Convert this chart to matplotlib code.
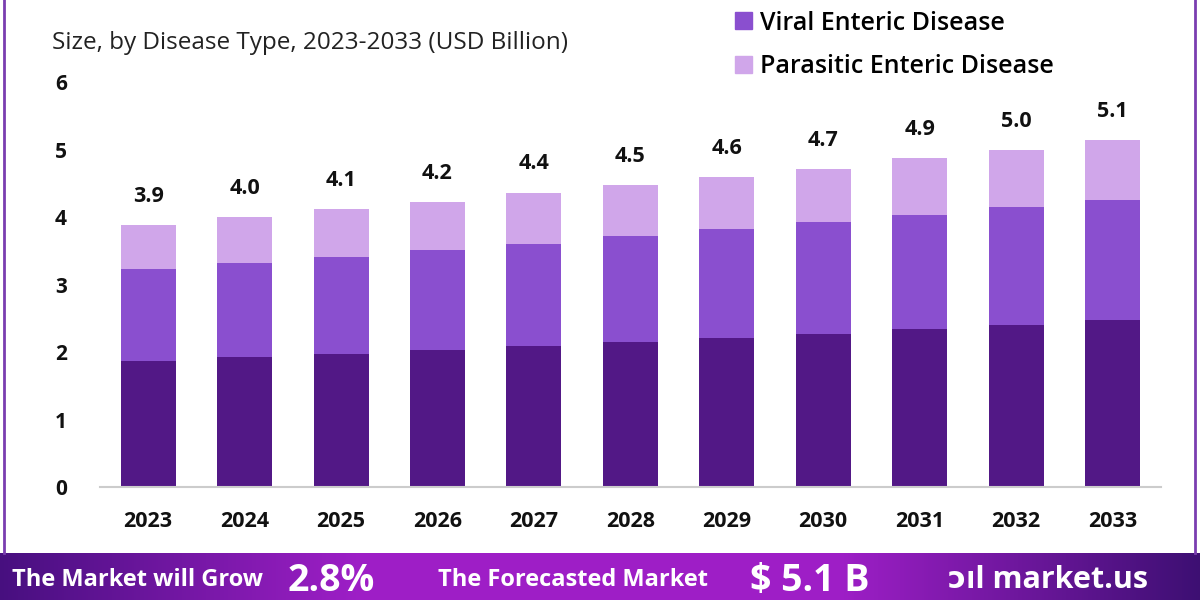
import numpy as np
import matplotlib.pyplot as plt
from matplotlib.patches import Patch
from matplotlib.lines import Line2D

plt.rcParams['font.family'] = ['Open Sans', 'DejaVu Sans']

# --- Data (USD Billion) ---
years = ['2023', '2024', '2025', '2026', '2027', '2028',
         '2029', '2030', '2031', '2032', '2033']
bacterial = [1.87, 1.93, 1.97, 2.03, 2.09, 2.15, 2.21, 2.27, 2.34, 2.40, 2.47]
viral = [1.36, 1.39, 1.44, 1.48, 1.52, 1.57, 1.61, 1.66, 1.70, 1.75, 1.78]
parasitic = [0.65, 0.68, 0.71, 0.71, 0.75, 0.75, 0.77, 0.78, 0.83, 0.84, 0.89]
totals = ['3.9', '4.0', '4.1', '4.2', '4.4', '4.5', '4.6', '4.7', '4.9', '5.0', '5.1']

c_bact = '#521886'
c_viral = '#8a4fcf'
c_para = '#d0a6ea'

fig = plt.figure(figsize=(12, 6), dpi=100)
ax = fig.add_axes([0.0833, 0.188, 0.884, 0.675])

x = np.arange(len(years))
w = 0.57
ax.bar(x, bacterial, w, color=c_bact, zorder=2)
ax.bar(x, viral, w, bottom=bacterial, color=c_viral, zorder=2)
tops = np.array(bacterial) + np.array(viral)
ax.bar(x, parasitic, w, bottom=tops, color=c_para, zorder=2)
stack = tops + np.array(parasitic)

for xi, h, lab in zip(x, stack, totals):
    ax.text(xi, h + 0.43, lab, ha='center', va='center',
            fontsize=15.5, fontweight='bold', color='#111111')

ax.set_xlim(-0.5, 10.5)
ax.set_ylim(0, 6)
ax.set_xticks(x)
ax.set_xticklabels(years, fontsize=15.5, fontweight='bold', color='#111111')
ax.set_yticks(range(7))
ax.set_yticklabels([str(i) for i in range(7)], fontsize=15,
                   fontweight='bold', color='#111111')
ax.tick_params(axis='x', length=0, pad=17)
ax.tick_params(axis='y', length=0, pad=24)
for s in ['top', 'right', 'left']:
    ax.spines[s].set_visible(False)
ax.spines['bottom'].set_color('#cccccc')
ax.spines['bottom'].set_linewidth(1.5)

fig.text(0.043, 0.928, 'Size, by Disease Type, 2023-2033 (USD Billion)',
         fontsize=17.5, color='#222222', va='center')

handles = [Patch(color=c_viral), Patch(color=c_para)]
fig.legend(handles, ['Viral Enteric Disease', 'Parasitic Enteric Disease'],
           loc='upper left', bbox_to_anchor=(0.594, 1.02), frameon=False,
           prop={'size': 18, 'weight': 'semibold'}, handlelength=0.65,
           handleheight=0.65, handletextpad=0.35, labelspacing=0.75)

# frame border
border = '#7a3db0'
fig.add_artist(Line2D([0.003, 0.003], [0.078, 1.0], color=border, lw=2))
fig.add_artist(Line2D([0.996, 0.996], [0.078, 1.0], color=border, lw=2))

# bottom banner with gradient
bax = fig.add_axes([0, 0, 1, 0.078])
grad_pos = [0.0, 0.3, 0.7, 1.0]
grad_r = [0.28, 0.62, 0.62, 0.24]
grad_g = [0.06, 0.12, 0.12, 0.06]
grad_b = [0.50, 0.78, 0.78, 0.45]
t = np.linspace(0, 1, 600)
rgb = np.stack([np.interp(t, grad_pos, grad_r),
                np.interp(t, grad_pos, grad_g),
                np.interp(t, grad_pos, grad_b)], axis=-1)
bax.imshow(rgb[None, :, :], aspect='auto', extent=[0, 1, 0, 1])
bax.set_xlim(0, 1)
bax.set_ylim(0, 1)
bax.axis('off')
bax.text(0.010, 0.42, 'The Market will Grow', color='white', fontsize=17,
         fontweight='bold', va='center', ha='left')
bax.text(0.240, 0.40, '2.8%', color='white', fontsize=27,
         fontweight='bold', va='center', ha='left')
bax.text(0.365, 0.42, 'The Forecasted Market', color='white', fontsize=17,
         fontweight='bold', va='center', ha='left')
bax.text(0.625, 0.40, '$ 5.1 B', color='white', fontsize=27,
         fontweight='bold', va='center', ha='left')
bax.text(0.790, 0.42, 'ↄıl market.us', color='white', fontsize=22,
         fontweight='bold', va='center', ha='left')

fig.savefig('out.png', dpi=100)
